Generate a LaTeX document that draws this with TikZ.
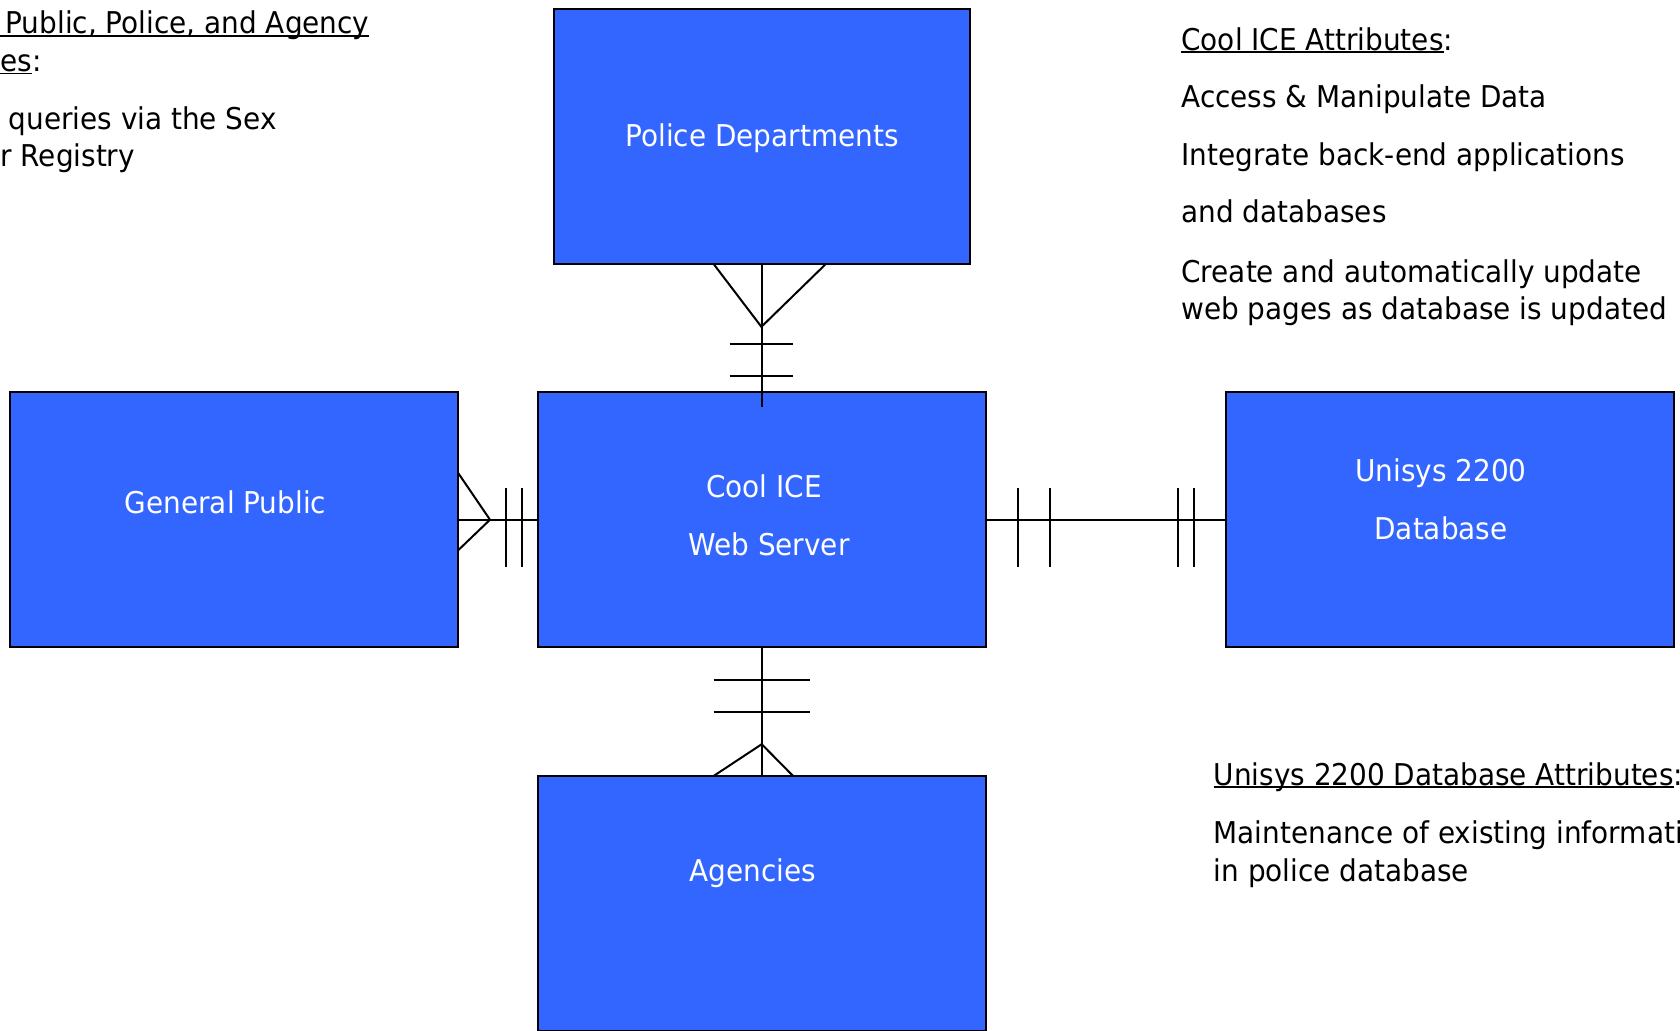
\documentclass[tikz,border=0pt]{standalone}
\usepackage{fontspec}
\setmainfont{DejaVu Sans}[FakeStretch=0.93]
\usetikzlibrary{positioning}
\definecolor{ice_blue}{RGB}{51, 102, 255}
\newsavebox\ulinebox
\newcommand{\ulined}[1]{\sbox\ulinebox{#1}\rlap{\rule[-1.3pt]{\wd\ulinebox}{0.75pt}}\usebox\ulinebox}
\tikzset {
  entity/.style = {draw, line width=1pt, fill=ice_blue, rectangle, inner sep=0pt, outer sep=0pt, minimum width=224pt, minimum height=127.6pt},
  entitytext/.style = {text=white, anchor=base, inner sep=0pt, font=\fontsize{15}{18}\selectfont},
  note/.style = {anchor=base west, inner sep=0pt, font=\fontsize{15}{18}\selectfont},
  erline/.style = {line width=1pt, color=black},
}

\begin{document}
\begin{tikzpicture}[x=0.5pt, y=-0.5pt]
    \clip (0,0) rectangle (1680,1030);

    % entities
    \node[entity] (ice) at (761.7,519.7) {};
    \node[entity, minimum width=208pt, above=64pt of ice] (pol) {};
    \node[entity, left=40pt of ice] (pub) {};
    \node[entity, right=120pt of ice] (uni) {};
    \node[entity, below=64.3pt of ice] (age) {};

    \node[entitytext] (pol-t) at (762,146) {Police Departments};
    \node[entitytext] (pub-t) at (225.5,513.5) {General Public};
    \node[entitytext] (ice-t1) at (764,497.6) {Cool ICE};
    \node[entitytext] (ice-t2) at (769,555.5) {Web Server};
    \node[entitytext] (uni-t1) at (1441,481.7) {Unisys 2200};
    \node[entitytext] (uni-t2) at (1441,539.3) {Database};
    \node[entitytext] (age-t) at (753,881) {Agencies};

    % attribute notes
    \node[note] (left1) at (0,33.9) {\ulined{\hspace*{2.6pt}Public, Police, and Agency}};
    \node[note] (left2) at (0,71.5) {\ulined{es}:};
    \node[note] (left3) at (8.3,129) {queries via the Sex};
    \node[note] (left4) at (0,166.8) {r Registry};

    \node[note] (ice-a0) at (1181,50) {\ulined{Cool ICE Attributes}:};
    \node[note] (ice-a1) at (1181,107.3) {Access \& Manipulate Data};
    \node[note] (ice-a2) at (1181,165) {Integrate back-end applications};
    \node[note] (ice-a3) at (1181,222.3) {and databases};
    \node[note] (ice-a4) at (1181,282.3) {Create and automatically update};
    \node[note] (ice-a5) at (1181,319.3) {web pages as database is updated};

    \node[note] (uni-a0) at (1213.3,785) {\ulined{Unisys 2200 Database Attributes}:};
    \node[note] (uni-a1) at (1213.3,843.8) {Maintenance of existing information};
    \node[note] (uni-a2) at (1213.3,881) {in police database};

    % relationships
    \draw[erline] (pol.south) -- ++(0,143);
    \draw[erline] (pol.south) ++(-48,0) -- ++(47.7,62.7) -- ++(64.3,-62.7);
    \draw[erline] (pol.south) ++(-32,80) -- ++(63,0);
    \draw[erline] (pol.south) ++(-32,111.7) -- ++(63,0);

    \draw[erline] (pub.east) -- (ice.west);
    \draw[erline] (pub.east) ++(0,-47.4) -- ++(32.3,47.4) -- ++(-32.3,31);
    \draw[erline] (pub.east) ++(48.3,-31.5) -- ++(0,79);
    \draw[erline] (pub.east) ++(64.3,-31.5) -- ++(0,79);

    \draw[erline] (ice.east) -- (uni.west);
    \draw[erline] (ice.east) ++(32,-31.5) -- ++(0,79);
    \draw[erline] (ice.east) ++(64.3,-31.5) -- ++(0,79);
    \draw[erline] (uni.west) ++(-47.4,-31.5) -- ++(0,79);
    \draw[erline] (uni.west) ++(-32,-31.5) -- ++(0,79);

    \draw[erline] (ice.south) -- (age.north);
    \draw[erline] (ice.south) ++(-48,32.7) -- ++(96,0);
    \draw[erline] (ice.south) ++(-48,64.4) -- ++(96,0);
    \draw[erline] (age.north) ++(-48,0) -- ++(48,-31.7) -- ++(31.3,31.7);
\end{tikzpicture}
\end{document}
